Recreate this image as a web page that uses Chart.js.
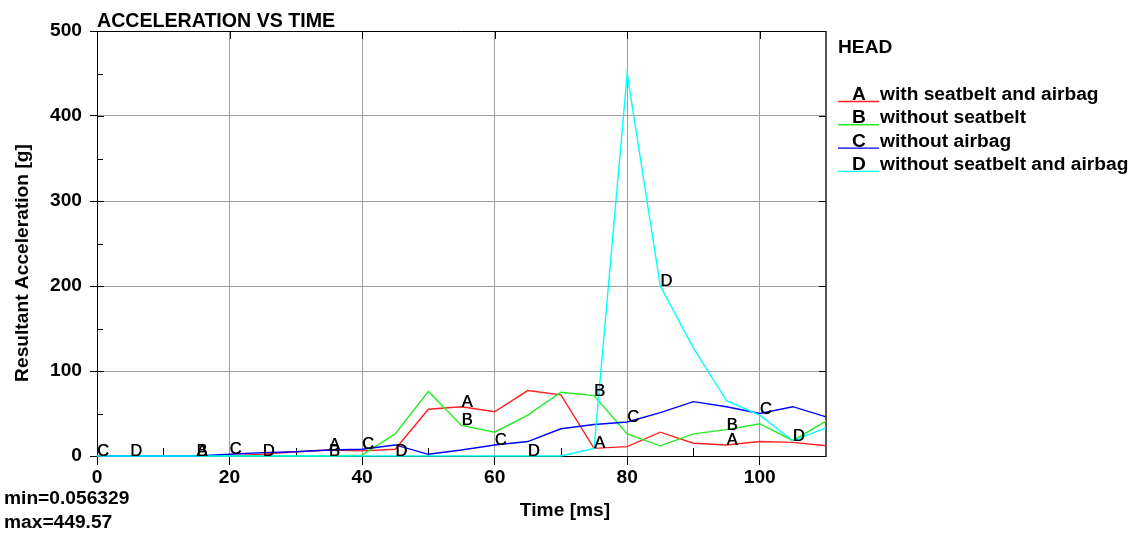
<!DOCTYPE html>
<html>
<head>
<meta charset="utf-8">
<script src="https://cdn.jsdelivr.net/npm/chart.js@4.4.1/dist/chart.umd.min.js"></script>
<style>
  html, body { margin: 0; padding: 0; background: #fff; }
  canvas { display: block; }
</style>
</head>
<body>
<canvas id="accChart" width="1135" height="533"></canvas>
<script>
// Values (time in ms, acceleration in g)
const timeMs = [0, 5, 10, 15, 20, 25, 30, 35, 40, 45, 50, 55, 60, 65, 70, 75, 80, 85, 90, 95, 100, 105, 110];
const accA = [0, 0, 0, 0, 0, 2, 5, 7, 6, 8, 55, 58, 52, 77, 72, 9, 11, 28, 15, 13, 17, 16, 12];
const accB = [0, 0, 0, 0, 0, 0, 0, 0, 1, 26, 76, 36, 28, 48, 75, 71, 26, 12, 26, 31, 38, 18, 41];
const accC = [0, 0, 0, 0, 2, 4, 5, 7, 8, 13, 2, 7, 13, 17, 32, 37, 40, 51, 64, 58, 50, 58, 46];
const accD = [0, 0, 0, 0, 0, 0, 0, 0, 0, 0, 0, 0, 0, 0, 0, 9, 449.57, 200, 127, 65, 48, 18, 33];

const seriesLetters = ['A', 'B', 'C', 'D'];
const seriesNames = ['with seatbelt and airbag', 'without seatbelt', 'without airbag', 'without seatbelt and airbag'];
const seriesColors = ['#ff2020', '#22ee22', '#0000ff', '#00ffff'];
// indices of the points where the curve letter is printed
const letterPoints = [
    [3, 7, 11, 15, 19],
    [3, 7, 11, 15, 19],
    [0, 4, 8, 12, 16, 20],
    [1, 5, 9, 13, 17, 21]
];

const xMajor = [0, 20, 40, 60, 80, 100];
const xMinor = [10, 30, 50, 70, 90];
const yMajor = [0, 100, 200, 300, 400, 500];
const yMinor = [50, 150, 250, 350, 450];

const chartTitle = 'ACCELERATION VS TIME';
const legendTitle = 'HEAD';
const xTitle = 'Time [ms]';
const yTitle = 'Resultant Acceleration [g]';
const statMin = 'min=0.056329';
const statMax = 'max=449.57';

const FONT = '"Liberation Sans", Arial, sans-serif';
const BOLD = 'bold 19.2px ' + FONT;

const overlay = {
    id: 'overlay',
    beforeDatasetsDraw(chart) {
        const { ctx, chartArea: a, scales: { x, y } } = chart;
        ctx.save();
        // frame
        ctx.lineWidth = 1;
        ctx.strokeStyle = '#000';
        ctx.beginPath();
        ctx.moveTo(a.left, a.top + 0.5); ctx.lineTo(a.right, a.top + 0.5);
        ctx.moveTo(a.left + 0.5, a.top); ctx.lineTo(a.left + 0.5, a.bottom);
        ctx.moveTo(a.left, a.bottom + 0.5); ctx.lineTo(a.right, a.bottom + 0.5);
        ctx.stroke();
        ctx.strokeStyle = '#555';
        ctx.lineWidth = 2;
        ctx.beginPath();
        ctx.moveTo(a.right, a.top); ctx.lineTo(a.right, a.bottom + 1);
        ctx.stroke();

        // inner tick marks
        ctx.lineWidth = 1;
        ctx.strokeStyle = '#000';
        ctx.beginPath();
        yMajor.forEach(v => {
            const py = Math.round(y.getPixelForValue(v)) + 0.5;
            ctx.moveTo(a.left, py); ctx.lineTo(a.left + 7, py);
            ctx.moveTo(a.right - 7, py); ctx.lineTo(a.right, py);
        });
        yMinor.forEach(v => {
            const py = Math.round(y.getPixelForValue(v)) + 0.5;
            ctx.moveTo(a.left, py); ctx.lineTo(a.left + 6, py);
        });
        xMajor.forEach(v => {
            const px = Math.round(x.getPixelForValue(v)) + 0.5;
            ctx.moveTo(px, a.top); ctx.lineTo(px, a.top + 8);
        });
        xMinor.forEach(v => {
            const px = Math.round(x.getPixelForValue(v)) + 0.5;
            ctx.moveTo(px, a.bottom); ctx.lineTo(px, a.bottom - 8);
        });
        ctx.stroke();
        ctx.restore();
    },
    afterDatasetsDraw(chart) {
        const { ctx } = chart;
        ctx.save();

        // letters on the curves
        ctx.font = '16.5px ' + FONT;
        ctx.fillStyle = '#000';
        ctx.textAlign = 'left';
        ctx.textBaseline = 'alphabetic';
        letterPoints.forEach((idxs, di) => {
            const meta = chart.getDatasetMeta(di);
            idxs.forEach(i => {
                const pt = meta.data[i];
                ctx.fillText(seriesLetters[di], pt.x, pt.y);
                ctx.fillText(seriesLetters[di], pt.x + 0.4, pt.y);
            });
        });

        // titles
        ctx.font = 'bold 19.6px ' + FONT;
        ctx.fillText(chartTitle, 97, 27);
        ctx.font = BOLD;
        ctx.textAlign = 'center';
        ctx.fillText(xTitle, 565, 516);
        ctx.save();
        ctx.translate(28, 263);
        ctx.rotate(-Math.PI / 2);
        ctx.fillText(yTitle, 0, 0);
        ctx.restore();

        ctx.textAlign = 'left';
        ctx.fillText(statMin, 4, 504);
        ctx.fillText(statMax, 4, 528);

        // legend
        ctx.fillText(legendTitle, 838, 53);
        seriesNames.forEach((name, i) => {
            const base = 100 + i * 23.3;
            ctx.strokeStyle = seriesColors[i];
            ctx.lineWidth = 1.4;
            ctx.beginPath();
            ctx.moveTo(838, base + 1.5); ctx.lineTo(879, base + 1.5);
            ctx.stroke();
            ctx.fillStyle = '#000';
            ctx.textAlign = 'center';
            ctx.fillText(seriesLetters[i], 859, base);
            ctx.textAlign = 'left';
            ctx.fillText(name, 880, base);
        });

        ctx.restore();
    }
};

const seriesValues = [accA, accB, accC, accD];

new Chart(document.getElementById('accChart').getContext('2d'), {
    type: 'line',
    data: {
        datasets: seriesValues.map((vals, i) => ({
            label: seriesLetters[i] + ' ' + seriesNames[i],
            data: timeMs.map((t, k) => ({ x: t, y: vals[k] })),
            borderColor: seriesColors[i],
            borderWidth: 1.4,
            pointRadius: 0,
            tension: 0,
            fill: false,
            clip: 2,
            order: 4 - i
        }))
    },
    options: {
        responsive: false,
        animation: false,
        devicePixelRatio: 1,
        layout: { padding: { left: 0, top: 31, right: 309, bottom: 0 } },
        plugins: { legend: { display: false }, tooltip: { enabled: false }, title: { display: false } },
        scales: {
            x: {
                type: 'linear', min: 0, max: 110,
                afterBuildTicks: s => { s.ticks = xMajor.map(v => ({ value: v })); },
                afterFit: s => { s.height = 77; },
                ticks: { font: { family: FONT, size: 19.2, weight: 'bold' }, color: '#000', padding: 1, maxRotation: 0 },
                grid: { color: '#a0a0a0', lineWidth: 1, tickLength: 9, tickColor: '#000' },
                border: { display: true, color: '#000' }
            },
            y: {
                type: 'linear', min: 0, max: 500,
                afterBuildTicks: s => { s.ticks = yMajor.map(v => ({ value: v })); },
                afterFit: s => { s.width = 97; },
                ticks: { font: { family: FONT, size: 19.2, weight: 'bold' }, color: '#000', padding: 8 },
                grid: { color: '#a0a0a0', lineWidth: 1, tickLength: 7, tickColor: '#000' },
                border: { display: true, color: '#000' }
            }
        }
    },
    plugins: [overlay]
});
</script>
</body>
</html>
